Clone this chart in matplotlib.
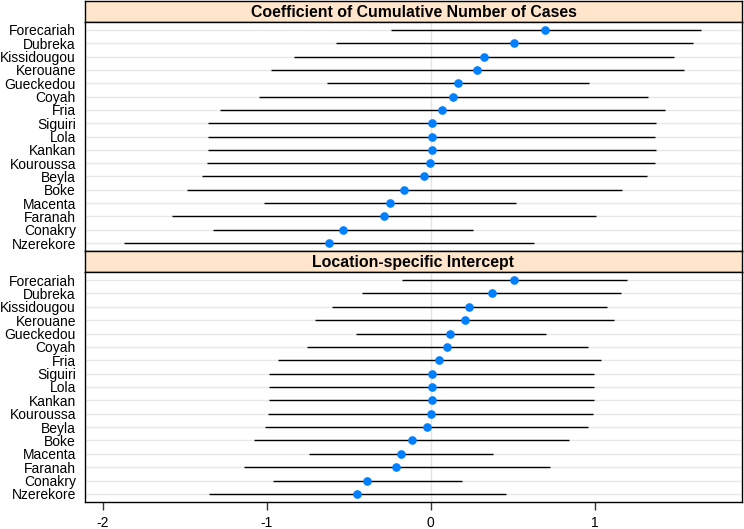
import matplotlib
matplotlib.use("Agg")
import matplotlib.pyplot as plt
import numpy as np

plt.rcParams['font.family'] = ['Liberation Sans', 'DejaVu Sans']

# districts, bottom to top as drawn
districts = ['Nzerekore', 'Conakry', 'Faranah', 'Macenta', 'Boke', 'Beyla',
             'Kouroussa', 'Kankan', 'Lola', 'Siguiri', 'Fria', 'Coyah',
             'Gueckedou', 'Kerouane', 'Kissidougou', 'Dubreka', 'Forecariah']

# Coefficient of Cumulative Number of Cases
coef_mid = [-0.622, -0.538, -0.287, -0.25, -0.164, -0.038,
            -0.002, 0.006, 0.006, 0.006, 0.07, 0.138,
            0.165, 0.285, 0.325, 0.51, 0.70]
coef_lo = [-1.87, -1.331, -1.579, -1.02, -1.49, -1.394,
           -1.368, -1.36, -1.357, -1.357, -1.287, -1.046,
           -0.636, -0.973, -0.835, -0.58, -0.24]
coef_hi = [0.628, 0.258, 1.008, 0.52, 1.167, 1.321,
           1.366, 1.374, 1.372, 1.374, 1.431, 1.325,
           0.968, 1.545, 1.486, 1.60, 1.65]

# Location-specific Intercept
int_mid = [-0.449, -0.388, -0.209, -0.18, -0.116, -0.024,
           0.0, 0.006, 0.006, 0.006, 0.051, 0.102,
           0.12, 0.207, 0.236, 0.374, 0.51]
int_lo = [-1.354, -0.965, -1.142, -0.74, -1.081, -1.01,
          -0.992, -0.986, -0.984, -0.984, -0.933, -0.758,
          -0.459, -0.707, -0.604, -0.418, -0.177]
int_hi = [0.457, 0.189, 0.73, 0.38, 0.846, 0.96,
          0.99, 0.996, 0.994, 0.996, 1.037, 0.962,
          0.704, 1.12, 1.077, 1.161, 1.198]

panels = [('Coefficient of Cumulative Number of Cases', coef_mid, coef_lo, coef_hi),
          ('Location-specific Intercept', int_mid, int_lo, int_hi)]

fig = plt.figure(figsize=(7.44, 5.29), dpi=100)

H = 529.0
left = 85 / 744.0
width = (742 - 85) / 744.0
# (strip top, strip bottom, panel bottom) in pixels from top
rows_px = [(1, 22, 251), (251, 272, 502)]

y = np.arange(1, len(districts) + 1)
xlim = (-2.11, 1.90)

for (title, mid, lo, hi), (st, sb, pb) in zip(panels, rows_px):
    # strip
    sax = fig.add_axes([left, (H - sb) / H, width, (sb - st) / H])
    sax.set_facecolor('#ffe5cc')
    sax.set_xticks([])
    sax.set_yticks([])
    for s in sax.spines.values():
        s.set_linewidth(1.0)
    sax.text(0.5, 0.45, title, ha='center', va='center', fontsize=11.4,
             fontweight='bold', transform=sax.transAxes)

    ax = fig.add_axes([left, (H - pb) / H, width, (pb - sb) / H])
    ax.set_xlim(*xlim)
    ax.set_ylim(0.4, len(districts) + 0.6)
    for yy in y:
        ax.axhline(yy, color='#e8e8e8', lw=1.0, zorder=0)
    ax.axvline(0, color='#e3e3e3', lw=1.0, zorder=0)
    ax.hlines(y, lo, hi, color='black', lw=1.0, zorder=2)
    ax.plot(mid, y, 'o', color='#0080ff', ms=5.2, zorder=3)
    ax.set_yticks(y)
    ax.set_yticklabels(districts, fontsize=10)
    ax.tick_params(axis='y', length=0, pad=6.5)
    for s in ax.spines.values():
        s.set_linewidth(1.0)
    if pb == 502:
        ax.set_xticks([-2, -1, 0, 1])
        ax.set_xticklabels(['-2', '-1', '0', '1'], fontsize=10)
        ax.tick_params(axis='x', length=5.8, width=1, pad=4, color='#333333')
    else:
        ax.set_xticks([])

fig.savefig('out.png', dpi=100)
